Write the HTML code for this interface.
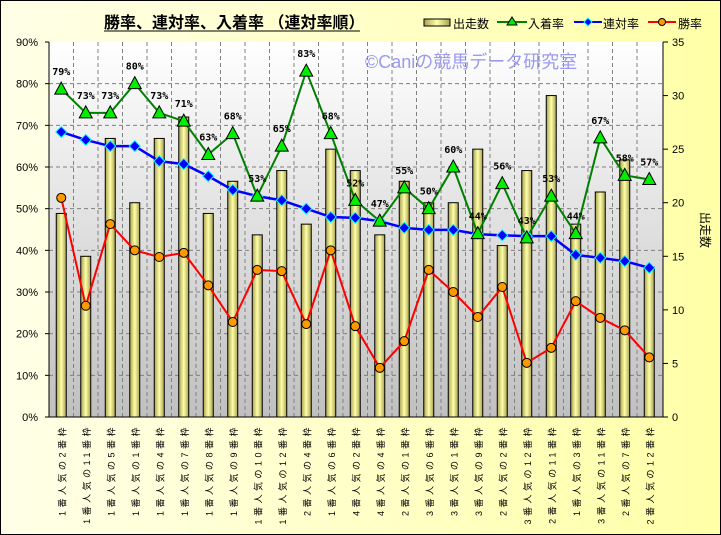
<!DOCTYPE html>
<html><head><meta charset="utf-8"><style>
html,body{margin:0;padding:0;width:721px;height:535px;overflow:hidden}
svg{display:block}
</style></head><body>
<svg id="s" width="721" height="535" xmlns="http://www.w3.org/2000/svg" font-family="'Liberation Sans','Noto Sans CJK JP',sans-serif">
<defs>
<linearGradient id="bg" x1="0" x2="1" y1="0" y2="0"><stop offset="0" stop-color="#ffffe8"/><stop offset="1" stop-color="#ffffa8"/></linearGradient>
<linearGradient id="pl" x1="0" x2="0" y1="0" y2="1"><stop offset="0" stop-color="#ffffff"/><stop offset="1" stop-color="#c0c0c0"/></linearGradient>
<linearGradient id="bar" x1="0" x2="1" y1="0" y2="0"><stop offset="0" stop-color="#a8a050"/><stop offset="0.5" stop-color="#ffffa8"/><stop offset="1" stop-color="#a8a050"/></linearGradient>
</defs>
<rect x="0.5" y="0.5" width="720" height="534" fill="url(#bg)" stroke="#000"/>
<rect x="49" y="42" width="614" height="375" fill="url(#pl)"/>
<g id="g"></g>
</svg>
<script>
const g=document.getElementById('g');let h='';
const X0=49,W=24.5,yp=p=>417-p*4.1667,yn=n=>417-n*10.714;
const cats=["1番人気の2番枠","1番人気の11番枠","1番人気の5番枠","1番人気の1番枠","1番人気の4番枠","1番人気の7番枠","1番人気の8番枠","1番人気の9番枠","1番人気の10番枠","1番人気の12番枠","2番人気の4番枠","1番人気の6番枠","4番人気の2番枠","4番人気の4番枠","2番人気の1番枠","3番人気の6番枠","3番人気の1番枠","3番人気の9番枠","2番人気の2番枠","3番人気の12番枠","2番人気の11番枠","1番人気の3番枠","3番人気の11番枠","2番人気の7番枠","2番人気の12番枠"];
const bars=[19,15,26,20,26,28,19,22,17,23,18,25,23,17,22,20,20,25,16,23,30,18,21,24,14];
const green=[78.7,73,73,80,73,71,63,68,53,65,83,68,52,47,55,50,60,44,56,43,53,44,67,58,57];
const blue=[68.4,66.5,65,65,61.4,60.7,57.8,54.5,53,52,50,48,47.8,47,45.4,44.9,44.9,43.9,43.6,43.4,43.4,38.9,38.2,37.4,35.8];
const red=[52.6,26.7,46.3,40,38.4,39.4,31.6,22.8,35.3,35,22.3,40,21.8,11.8,18.2,35.3,30,24,31.2,13,16.6,27.8,23.8,20.8,14.3];
const cx=i=>X0+W*(i+0.5);
for(let k=1;k<9;k++){const y=yp(k*10);h+=`<line x1="49" x2="663" y1="${y}" y2="${y}" stroke="#808080" stroke-dasharray="4,3"/>`;}
for(let i=1;i<25;i++){const x=X0+W*i;h+=`<line x1="${x}" x2="${x}" y1="42" y2="417" stroke="#808080" stroke-dasharray="4,3"/>`;}
bars.forEach((n,i)=>{const y=yn(n);h+=`<rect x="${cx(i)-5}" y="${y}" width="10" height="${417-y}" fill="url(#bar)" stroke="#000" stroke-width="1"/>`;});
h+=`<line x1="49" y1="42" x2="49" y2="417" stroke="#000"/><line x1="49" y1="417" x2="663" y2="417" stroke="#000"/><line x1="663" y1="42" x2="663" y2="417" stroke="#000"/>`;
for(let k=0;k<=9;k++){const y=yp(k*10);h+=`<line x1="45" x2="49" y1="${y}" y2="${y}" stroke="#000"/><text x="38" y="${y+4}" font-size="11" text-anchor="end">${k*10}%</text>`;}
for(let k=0;k<=7;k++){const y=yn(k*5);h+=`<line x1="663" x2="668" y1="${y}" y2="${y}" stroke="#000"/><text x="672" y="${y+4}" font-size="11">${k*5}</text>`;}
h+=`<text x="365" y="68" font-size="18" fill="#9a9af0">©Caniの競馬データ研究室</text>`;
const pts=(a)=>a.map((v,i)=>`${cx(i)},${yp(v)}`).join(' ');
h+=`<polyline points="${pts(red)}" fill="none" stroke="#ff0000" stroke-width="2"/>`;
h+=`<polyline points="${pts(blue)}" fill="none" stroke="#0000ff" stroke-width="2.5"/>`;
h+=`<polyline points="${pts(green)}" fill="none" stroke="#008000" stroke-width="2"/>`;
red.forEach((v,i)=>{h+=`<circle cx="${cx(i)}" cy="${yp(v)}" r="4.5" fill="#ff9900" stroke="#000"/>`;});
blue.forEach((v,i)=>{const x=cx(i),y=yp(v);h+=`<polygon points="${x},${y-5.5} ${x+5.5},${y} ${x},${y+5.5} ${x-5.5},${y}" fill="#0000ff" stroke="#00ffff"/>`;});
green.forEach((v,i)=>{const x=cx(i),y=yp(v);h+=`<polygon points="${x},${y-7} ${x+6.5},${y+5} ${x-6.5},${y+5}" fill="#00ee00" stroke="#000"/>`;
h+=`<text x="${x}" y="${y-14}" font-size="10" font-weight="bold" text-anchor="middle" font-family="'DejaVu Sans Mono',monospace">${Math.round(v)}%</text>`;});
cats.forEach((c,i)=>{const x=cx(i)+4;h+=`<text transform="translate(${x},424) rotate(-90)" font-size="9" letter-spacing="3.5" text-anchor="end">${c}</text>`;});
h+=`<text x="104" y="28" font-size="16" font-weight="bold">勝率、連対率、入着率 （連対率順）</text><line x1="104" x2="360" y1="31" y2="31" stroke="#000"/>`;
h+=`<rect x="424" y="19" width="26" height="7" fill="url(#bar)" stroke="#000"/><text x="453" y="28" font-size="12">出走数</text>`;
h+=`<line x1="497" x2="527" y1="22" y2="22" stroke="#008000" stroke-width="2"/><polygon points="512,17 517,25 507,25" fill="#00ee00" stroke="#000"/><text x="528" y="28" font-size="12">入着率</text>`;
h+=`<line x1="574" x2="602" y1="22" y2="22" stroke="#0000ff" stroke-width="2"/><polygon points="588,18 592,22 588,26 584,22" fill="#0000ff" stroke="#00ffff"/><text x="603" y="28" font-size="12">連対率</text>`;
h+=`<line x1="648" x2="676" y1="22" y2="22" stroke="#ff0000" stroke-width="2"/><circle cx="662" cy="22" r="3.5" fill="#ff9900" stroke="#000"/><text x="678" y="28" font-size="12">勝率</text>`;
h+=`<text transform="translate(701,230) rotate(90)" font-size="12" text-anchor="middle">出走数</text>`;
g.innerHTML=h;
</script>
</body></html>
